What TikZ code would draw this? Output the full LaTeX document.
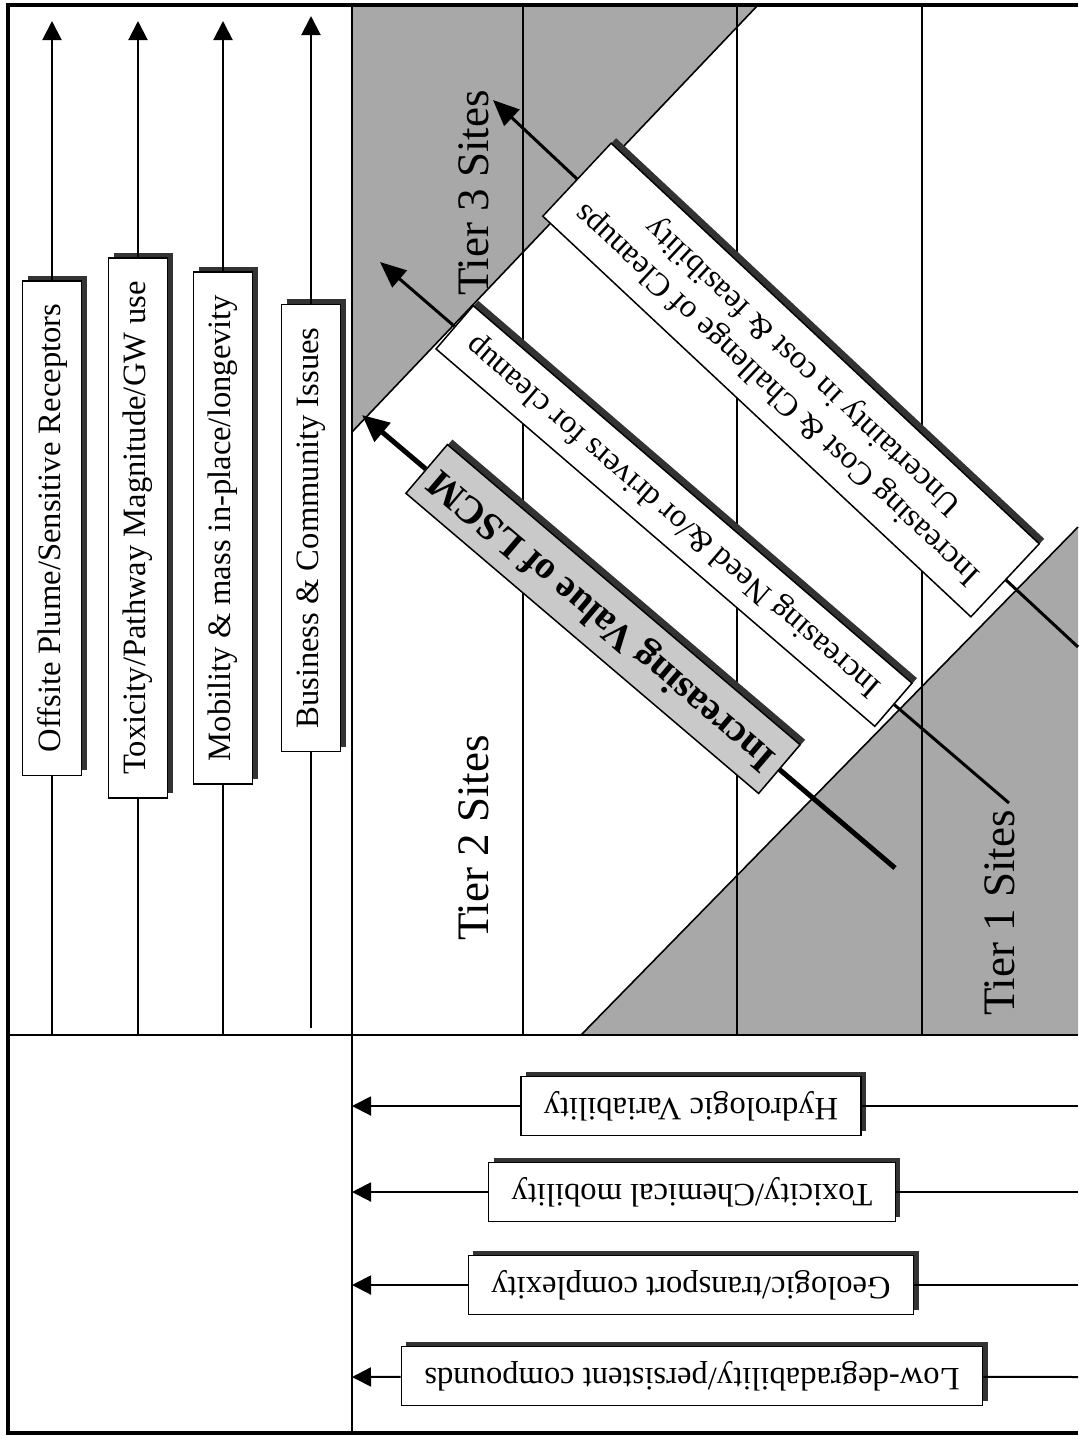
\documentclass[tikz,border=0pt]{standalone}
\usepackage{fontspec}
\setmainfont{Liberation Serif}
\usetikzlibrary{arrows.meta,shadows}

\tikzset{
  txtbox/.style={draw, line width=0.75pt, fill=white, inner xsep=11.5pt, inner ysep=0pt,
    minimum height=29.5pt, font=\fontsize{16.3}{19}\selectfont,
    drop shadow={shadow xshift=2.5pt, shadow yshift=2.5pt, fill=black!80, opacity=1}},
  valbox/.style={txtbox, fill=black!21, inner xsep=5pt, minimum height=32pt,
    font=\fontsize{19.5}{23}\selectfont\bfseries},
  tierlbl/.style={font=\fontsize{22.5}{26}\selectfont, rotate=90},
  graybg/.style={fill=black!34},
  thinln/.style={line width=0.8pt},
  midln/.style={line width=1.1pt},
  frameln/.style={line width=2pt},
  arrline/.style={line width=1pt, >={Triangle[length=9.5pt,width=9.5pt]}},
  diagline/.style={line width=1.5pt, >={Triangle[length=13pt,width=11pt]}},
  valline/.style={line width=2.5pt, >={Triangle[length=13.5pt,width=12pt]}}
}

\begin{document}
\begin{tikzpicture}[x=0.5pt, y=-0.5pt]

  \useasboundingbox (0,0) rectangle (1078,1436);

  \fill[graybg] (352,5) -- (758,5) -- (352,432) -- cycle;
  \draw[thinln] (758,5) -- (352,432);
  \fill[graybg] (581,1035) -- (1078,527) -- (1078,1035) -- cycle;
  \draw[thinln] (581,1035) -- (1078,527);

  \draw[thinln] (523,5) -- (523,1035);
  \draw[thinln] (737,5) -- (737,1035);
  \draw[thinln] (922,5) -- (922,1035);
  \draw[midln] (352,5) -- (352,1433);
  \draw[midln] (8,1035) -- (1078,1035);
  \draw[frameln] (1078,5) -- (8,5) -- (8,1433) -- (1078,1433);

  % left column
  \coordinate (offb) at (52,1035);
  \coordinate (offt) at (52,21);
  \coordinate (toxb) at (138,1035);
  \coordinate (toxt) at (138,21);
  \coordinate (mobb) at (223,1035);
  \coordinate (mobt) at (223,21);
  \coordinate (busb) at (311,1028);
  \coordinate (bust) at (311,16);

  \node[txtbox] (off) [rotate=90] at (52,528) {Offsite Plume/Sensitive Receptors};
  \node[txtbox] (tox) [rotate=90] at (138,528) {Toxicity/Pathway Magnitude/GW use};
  \node[txtbox] (mob) [rotate=90] at (223,528) {Mobility \& mass in-place/longevity};
  \node[txtbox] (bus) [rotate=90] at (311,528) {Business \& Community Issues};

  \path[arrline] (offb) edge (off) (off) edge[->] (offt);
  \path[arrline] (toxb) edge (tox) (tox) edge[->] (toxt);
  \path[arrline] (mobb) edge (mob) (mob) edge[->] (mobt);
  \path[arrline] (busb) edge (bus) (bus) edge[->] (bust);

  % bottom row
  \coordinate (hydr) at (1078,1106);
  \coordinate (hydl) at (352,1106);
  \coordinate (chmr) at (1078,1192);
  \coordinate (chml) at (352,1192);
  \coordinate (geor) at (1078,1285);
  \coordinate (geol) at (352,1285);
  \coordinate (lowr) at (1078,1377);
  \coordinate (lowl) at (352,1377);

  \node[txtbox] (hyd) [rotate=180] at (691,1106) {Hydrologic Variability};
  \node[txtbox] (chm) [rotate=180] at (692,1192) {Toxicity/Chemical mobility};
  \node[txtbox] (geo) [rotate=180] at (691,1285) {Geologic/transport complexity};
  \node[txtbox] (low) [rotate=180] at (692,1376) {Low-degradability/persistent compounds};

  \path[arrline] (hydr) edge (hyd) (hyd) edge[->] (hydl);
  \path[arrline] (chmr) edge (chm) (chm) edge[->] (chml);
  \path[arrline] (geor) edge (geo) (geo) edge[->] (geol);
  \path[arrline] (lowr) edge (low) (low) edge[->] (lowl);

  % diagonal arrows
  \coordinate (valb) at (895,868);
  \coordinate (valt) at (362,415);
  \coordinate (needb) at (1009,803);
  \coordinate (needt) at (380,262);
  \coordinate (costb) at (1078,647);
  \coordinate (costt) at (493,100);

  \node[valbox] (val) [rotate=139.6] at (603,619) {Increasing Value of LSCM};
  \node[txtbox] (need) [rotate=139.3, inner xsep=10.5pt, minimum height=28.5pt] at (674,516)
    {Increasing Need \&/or drivers for cleanup};
  \node[txtbox] (cost) [rotate=136.9, inner xsep=11pt, minimum height=50pt, align=center] at (791,380)
    {Increasing Cost \& Challenge of Cleanups\\Uncertainty in cost \& feasibility};

  \path[valline] (valb) edge (val) (val) edge[->] (valt);
  \path[diagline] (needb) edge (need) (need) edge[->] (needt);
  \path[diagline] (costb) edge (cost) (cost) edge[->] (costt);

  \node[tierlbl] (tier3) at (474,193) {Tier 3 Sites};
  \node[tierlbl] (tier2) at (474,838) {Tier 2 Sites};
  \node[tierlbl] (tier1) at (1000,913) {Tier 1 Sites};

\end{tikzpicture}
\end{document}
